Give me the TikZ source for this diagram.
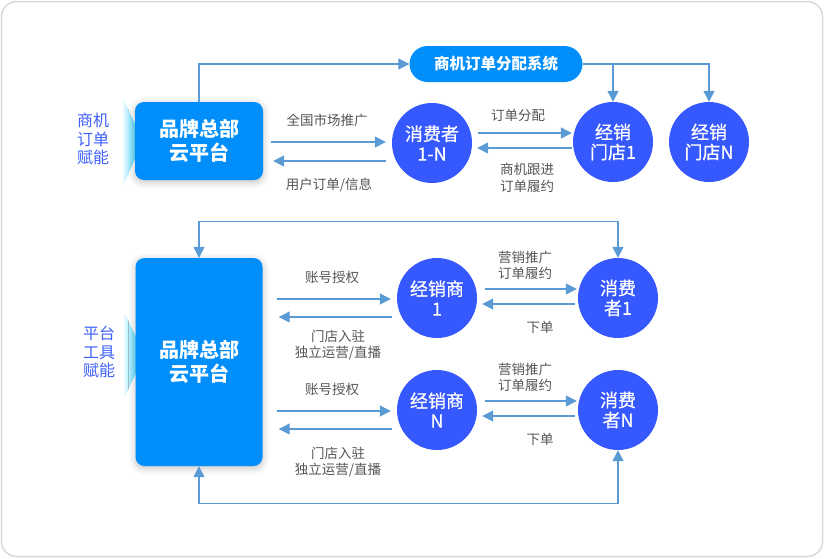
\documentclass[tikz,border=0pt]{standalone}
\usepackage{fontspec}
\setmainfont{Noto Sans CJK SC}
\newfontfamily\dotfont[FakeBold=0.6]{Noto Sans CJK SC}
\usetikzlibrary{arrows.meta,calc,shadows.blur}
\definecolor{hqblue}{RGB}{0,142,250}
\definecolor{dotblue}{RGB}{54,88,255}
\definecolor{linkblue}{RGB}{91,155,213}
\definecolor{sidetxt}{RGB}{64,96,250}
\definecolor{labtxt}{RGB}{85,85,85}
\definecolor{glow}{RGB}{0,200,255}

\begin{document}
\begin{tikzpicture}[x=1pt,y=-1pt,>={Triangle[length=11pt,width=11pt]},
  link/.style={->,draw=linkblue,line width=1.3pt},
  hqbox/.style={fill=hqblue,rounded corners=9pt,text=white,align=center,inner sep=0pt,
    font=\fontsize{20}{24}\selectfont\bfseries,
    blur shadow={shadow xshift=0pt,shadow yshift=-2pt,shadow blur radius=7pt,shadow opacity=25}},
  dot/.style={circle,fill=dotblue,minimum size=80pt,inner sep=0pt,text=white,align=center,
    font=\dotfont\fontsize{18}{20}\selectfont},
  lab/.style={text=labtxt,font=\fontsize{13.5}{16.5}\selectfont,align=center,inner sep=0pt},
  side/.style={text=sidetxt,font=\fontsize{16}{18.5}\selectfont,align=center,inner sep=0pt}]
\useasboundingbox (0,0) rectangle (824,558);
\draw[gray!30,line width=1.5pt,rounded corners=15pt] (1.5,1.5) rectangle (822.5,556.5);
% ---- top ----
\shade[left color=glow!8,right color=glow] (123,98) -- (143,141) -- (123,186) -- cycle;
\node[hqbox,minimum width=128pt,minimum height=78pt] (hq1) at (199,141) {品牌总部\\云平台};
\node[side] (tag1) at (93,139) {商机\\订单\\赋能};
\node[fill=hqblue,rounded corners=18pt,minimum width=173pt,minimum height=36pt,text=white,
  font=\fontsize{15.5}{18}\selectfont\bfseries] (sys) at (496,64) {商机订单分配系统};
\node[dot] (cons) at (432,143) {消费者\\1-N};
\node[dot] (store1) at (613,142) {经销\\门店1};
\node[dot] (storeN) at (709,142) {经销\\门店N};
\draw[link] (hq1.north) |- (sys.west);
\draw[link] (sys.east) -| (storeN.north);
\draw[link] (sys.east -| store1.north) -- (store1.north);
\draw[link] ($(hq1.east)+(8,1)$) -- ($(cons.west)+(-6,-1)$);
\draw[link] ($(cons.west)+(-6,18)$) -- ($(hq1.east)+(10,20)$);
\draw[link] ($(cons.east)+(6,-10)$) -- ($(store1.west)+(-1,-9)$);
\draw[link] ($(store1.west)+(-1,6)$) -- ($(cons.east)+(5,5)$);
\node[lab] (promo) at (327,120) {全国市场推广};
\node[lab] (order) at (329,185) {用户订单/信息};
\node[lab] (assign) at (518,115) {订单分配};
\node[lab] (follow) at (527,178) {商机跟进\\订单履约};
% ---- bottom ----
\shade[left color=glow!8,right color=glow] (124,312) -- (145,355) -- (124,398) -- cycle;
\node[hqbox,minimum width=127pt,minimum height=208pt] (hq2) at (199,362) {品牌总部\\云平台};
\node[side] (tag2) at (99,352) {平台\\工具\\赋能};
\foreach \r/\y/\g in {1/298/47,N/410/52}{
  \node[dot] (deal\r) at (437,\y) {经销商\\\r};
  \node[dot] (cons\r) at (618,\y) {消费\\者\r};
  \draw[link] ($(hq2.east |- deal\r.west)+(14,1)$) -- ($(deal\r.west)+(-6,1)$);
  \draw[link] ($(deal\r.west)+(-5,19)$) -- ($(hq2.east |- deal\r.west)+(16,19)$);
  \draw[link] ($(deal\r.east)+(8,-9)$) -- ($(cons\r.west)+(-1,-9)$);
  \draw[link] ($(cons\r.west)+(-3,6)$) -- ($(deal\r.east)+(5,6)$);
  \node[lab] (auth\r) at (332,\y-21) {账号授权};
  \node[lab] (open\r) at (338,\y+\g) {门店入驻\\独立运营/直播};
  \node[lab] (sell\r) at (525,\y-32.5) {营销推广\\订单履约};
  \node[lab] (buy\r) at (540,\y+29) {下单};
}
\draw[link,<->] (hq2.north) -- ++(0,-36) -| (cons1.north);
\draw[link,<->] (hq2.south) -- ++(0,37) -| (consN.south);
\end{tikzpicture}
\end{document}
